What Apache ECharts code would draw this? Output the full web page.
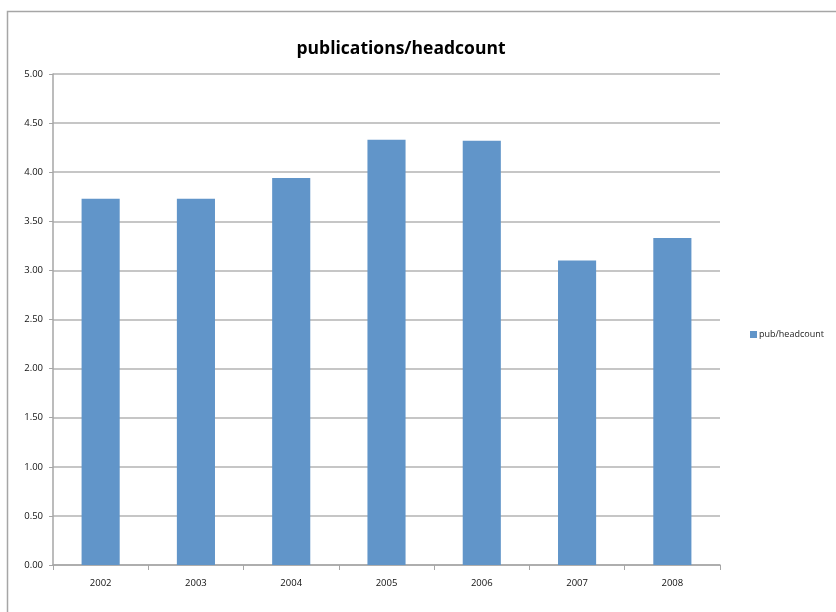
<!DOCTYPE html>
<html>
<head>
<meta charset="utf-8">
<script src="https://cdn.jsdelivr.net/npm/echarts@6/dist/echarts.min.js"></script>
<style>
  html, body { margin: 0; padding: 0; background: #ffffff; }
  #chart { width: 836px; height: 612px; }
</style>
</head>
<body>
<div id="chart"></div>
<script>
// Publications per headcount, by year
const years = ['2002', '2003', '2004', '2005', '2006', '2007', '2008'];
const pubPerHeadcount = [3.73, 3.73, 3.94, 4.33, 4.32, 3.10, 3.33];
const seriesName = 'pub/headcount';
const chartTitle = 'publications/headcount';

const chart = echarts.init(document.getElementById('chart'), null, { renderer: 'canvas' });

chart.setOption({
  animation: false,
  backgroundColor: '#ffffff',
  graphic: [{
    type: 'rect',
    shape: { x: 7.5, y: 11.5, width: 900, height: 700 },
    style: { fill: 'none', stroke: '#a6a6a6', lineWidth: 1.5 },
    silent: true
  }],
  title: {
    text: chartTitle,
    left: 396,
    top: 35,
    textAlign: 'center',
    textStyle: {
      fontFamily: 'Open Sans',
      fontWeight: 'bold',
      fontSize: 17.5,
      color: '#000000'
    }
  },
  legend: {
    data: [seriesName],
    orient: 'vertical',
    left: 745,
    top: 325,
    itemWidth: 7,
    itemHeight: 7,
    itemGap: 4,
    icon: 'rect',
    textStyle: { fontFamily: 'Open Sans', fontSize: 9, color: '#222222', padding: [0, 0, 0, -3] }
  },
  grid: {
    left: 53,
    right: 116,
    top: 74,
    bottom: 47,
    containLabel: false
  },
  xAxis: {
    type: 'category',
    data: years,
    axisLine: { show: true, lineStyle: { color: '#a6a6a6', width: 1.5 } },
    axisTick: { show: true, alignWithLabel: false, length: 5, lineStyle: { color: '#a6a6a6' } },
    axisLabel: { fontFamily: 'Open Sans', fontSize: 9.5, color: '#111111', margin: 13 },
    splitLine: { show: false }
  },
  yAxis: {
    type: 'value',
    min: 0,
    max: 5,
    interval: 0.5,
    axisLine: { show: true, lineStyle: { color: '#a6a6a6', width: 1.5 } },
    axisTick: { show: true, length: 4, lineStyle: { color: '#a6a6a6' } },
    axisLabel: {
      fontFamily: 'Open Sans',
      fontSize: 9.5,
      color: '#111111',
      margin: 10,
      formatter: v => v.toFixed(2)
    },
    splitLine: { show: true, lineStyle: { color: '#b3b3b3', width: 1.5 } }
  },
  series: [{
    name: seriesName,
    type: 'bar',
    data: pubPerHeadcount,
    barWidth: '40%',
    itemStyle: { color: '#6195c9' }
  }]
});
</script>
</body>
</html>
